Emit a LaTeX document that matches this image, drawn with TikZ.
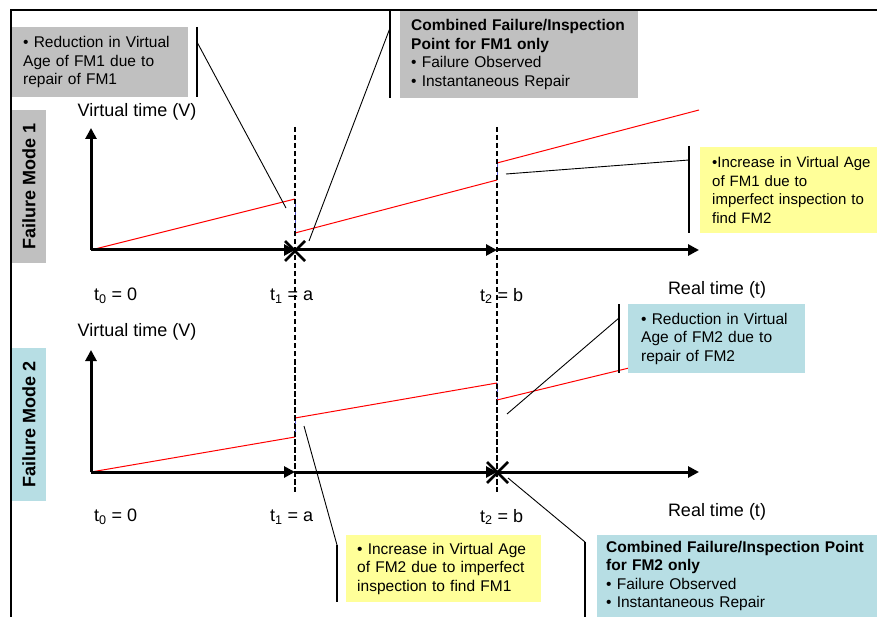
\documentclass[tikz,border=0pt]{standalone}
\usepackage{fontspec}
\setmainfont{Liberation Sans}
\usetikzlibrary{arrows.meta}
\definecolor{boxgray}{RGB}{192,192,192}
\definecolor{boxyellow}{RGB}{255,255,153}
\definecolor{boxteal}{RGB}{183,222,228}
\definecolor{jumpblue}{RGB}{80,80,200}
\tikzset{
  note/.style={anchor=north west, inner xsep=11pt, inner ysep=0pt, align=left,
    font=\fontsize{15.5}{18.5}\selectfont},
  modebox/.style={rotate=90, inner sep=0pt, minimum width=153pt, minimum height=34pt,
    font=\fontsize{18}{21}\selectfont\bfseries},
  axlabel/.style={inner sep=0pt, font=\fontsize{18}{21}\selectfont},
  ticklabel/.style={inner sep=0pt, anchor=west, font=\fontsize{18}{21}\selectfont},
  axisline/.style={line width=3pt, -{Triangle[length=11pt,width=11pt]}},
  vguide/.style={line width=2pt, dash pattern=on 5pt off 3pt},
  ageline/.style={red, line width=1pt},
  jumpline/.style={jumpblue, line width=1pt},
  barline/.style={line width=1.2pt},
  leader/.style={line width=0.9pt},
  xmark/.style={line width=2.8pt},
}
\begin{document}
\begin{tikzpicture}[x=1pt,y=-1pt]
\useasboundingbox (0,0) rectangle (877,617);
% frame
\draw[line width=2pt] (11,617) -- (11,10) -- (877,10);

% ---------- Panel 1 ----------
\coordinate (o1) at (91,250);
\coordinate (a1) at (295,250);
\coordinate (b1) at (497,250);
\coordinate (e1) at (699,250);
% red virtual age
\draw[ageline] (o1) -- (295,199);
\draw[jumpline] (295,199) -- (295,233);
\draw[ageline] (295,233) -- (497,180);
\draw[jumpline] (497,180) -- (497,163);
\draw[ageline] (497,163) -- (699,110);
% dashed guides
\draw[vguide] (295,127) coordinate (ga1) -- (295,492) coordinate (ga2);
\draw[vguide] (497,127) coordinate (gb1) -- (497,492) coordinate (gb2);
% axes
\draw[axisline] (o1) -- (91,128);
\draw[axisline] (o1) -- (a1);
\draw[axisline] (a1) -- (b1);
\draw[axisline] (b1) -- (e1);
\draw[xmark] (285,241) -- (305,261) (285,261) -- (305,241);
\node[axlabel] (v1) at (137,112) {Virtual time (V)};
\node[axlabel] (r1) at (717,290) {Real time (t)};
\node[ticklabel] (t01) at (94,296) {t\textsubscript{0} = 0};
\node[ticklabel] (t11) at (270,296) {t\textsubscript{1} = a};
\node[ticklabel] (t21) at (480,296) {t\textsubscript{2} = b};
\node[modebox, fill=boxgray] (fm1) at (29,186.5) {Failure Mode 1};

% notes panel 1
\node[note, fill=boxgray, text width=154pt, minimum height=70pt] (nA) at (12,27)
  {• Reduction in Virtual\\Age of FM1 due to\\repair of FM1};
\draw[barline] (197,27) -- (197,97);
\coordinate (lA1) at (197,42);
\coordinate (lA2) at (286,208);
\draw[leader] (lA1) -- (lA2);

\node[note, fill=boxgray, text width=216pt, minimum height=87pt] (nB) at (400,11)
  {\textbf{Combined Failure/Inspection}\\\textbf{Point for FM1 only}\\• Failure Observed\\• Instantaneous Repair};
\draw[barline] (390,11) -- (390,98);
\coordinate (lB1) at (390,28);
\coordinate (lB2) at (309,241);
\draw[leader] (lB1) -- (lB2);

\node[note, fill=boxyellow, inner xsep=12pt, text width=170pt, minimum height=86pt,
  font=\fontsize{15}{18.5}\selectfont] (nC) at (700,147)
  {•Increase in Virtual Age\\of FM1 due to\\imperfect inspection to\\find FM2};
\draw[barline] (689,146) -- (689,233);
\coordinate (lC1) at (689,160);
\coordinate (lC2) at (506,174);
\draw[leader] (lC1) -- (lC2);

% ---------- Panel 2 ----------
\coordinate (o2) at (91,472);
\coordinate (a2) at (295,472);
\coordinate (b2) at (497,472);
\coordinate (e2) at (699,472);
\draw[ageline] (o2) -- (295,437);
\draw[jumpline] (295,437) -- (295,418);
\draw[ageline] (295,418) -- (497,383);
\draw[jumpline] (497,383) -- (497,400);
\draw[ageline] (497,400) -- (699,351);
% redraw guides over red
\draw[vguide] (295,360) -- (295,492);
\draw[vguide] (497,360) -- (497,492);
\draw[axisline] (o2) -- (91,350);
\draw[axisline] (o2) -- (a2);
\draw[axisline] (a2) -- (b2);
\draw[axisline] (b2) -- (e2);
\draw[xmark] (487,462) -- (508,483) (487,483) -- (508,462);
\node[axlabel] (v2) at (137,332) {Virtual time (V)};
\node[axlabel] (r2) at (717,512) {Real time (t)};
\node[ticklabel] (t02) at (94,517) {t\textsubscript{0} = 0};
\node[ticklabel] (t12) at (270,517) {t\textsubscript{1} = a};
\node[ticklabel] (t22) at (480,517) {t\textsubscript{2} = b};
\node[modebox, fill=boxteal] (fm2) at (29,424) {Failure Mode 2};

\node[note, fill=boxteal, inner xsep=13pt, text width=151pt, minimum height=69pt] (nD) at (628,304)
  {• Reduction in Virtual\\Age of FM2 due to\\repair of FM2};
\draw[barline] (619,304) -- (619,373);
\coordinate (lD1) at (619,318);
\coordinate (lD2) at (507,414);
\draw[leader] (lD1) -- (lD2);

\node[note, fill=boxyellow, text width=173pt, minimum height=67pt] (nE) at (346,535)
  {• Increase in Virtual Age\\of FM2 due to imperfect\\inspection to find FM1};
\draw[barline] (337,545) -- (337,602);
\coordinate (lE1) at (304,426);
\coordinate (lE2) at (337,545);
\draw[leader] (lE1) -- (lE2);

\node[note, fill=boxteal, inner xsep=9pt, text width=262pt, minimum height=82pt] (nF) at (597,535)
  {\textbf{Combined Failure/Inspection Point}\\\textbf{for FM2 only}\\• Failure Observed\\• Instantaneous Repair};
\draw[barline] (585,542) -- (585,617);
\coordinate (lF1) at (508,478);
\coordinate (lF2) at (585,542);
\draw[leader] (lF1) -- (lF2);
\end{tikzpicture}
\end{document}
